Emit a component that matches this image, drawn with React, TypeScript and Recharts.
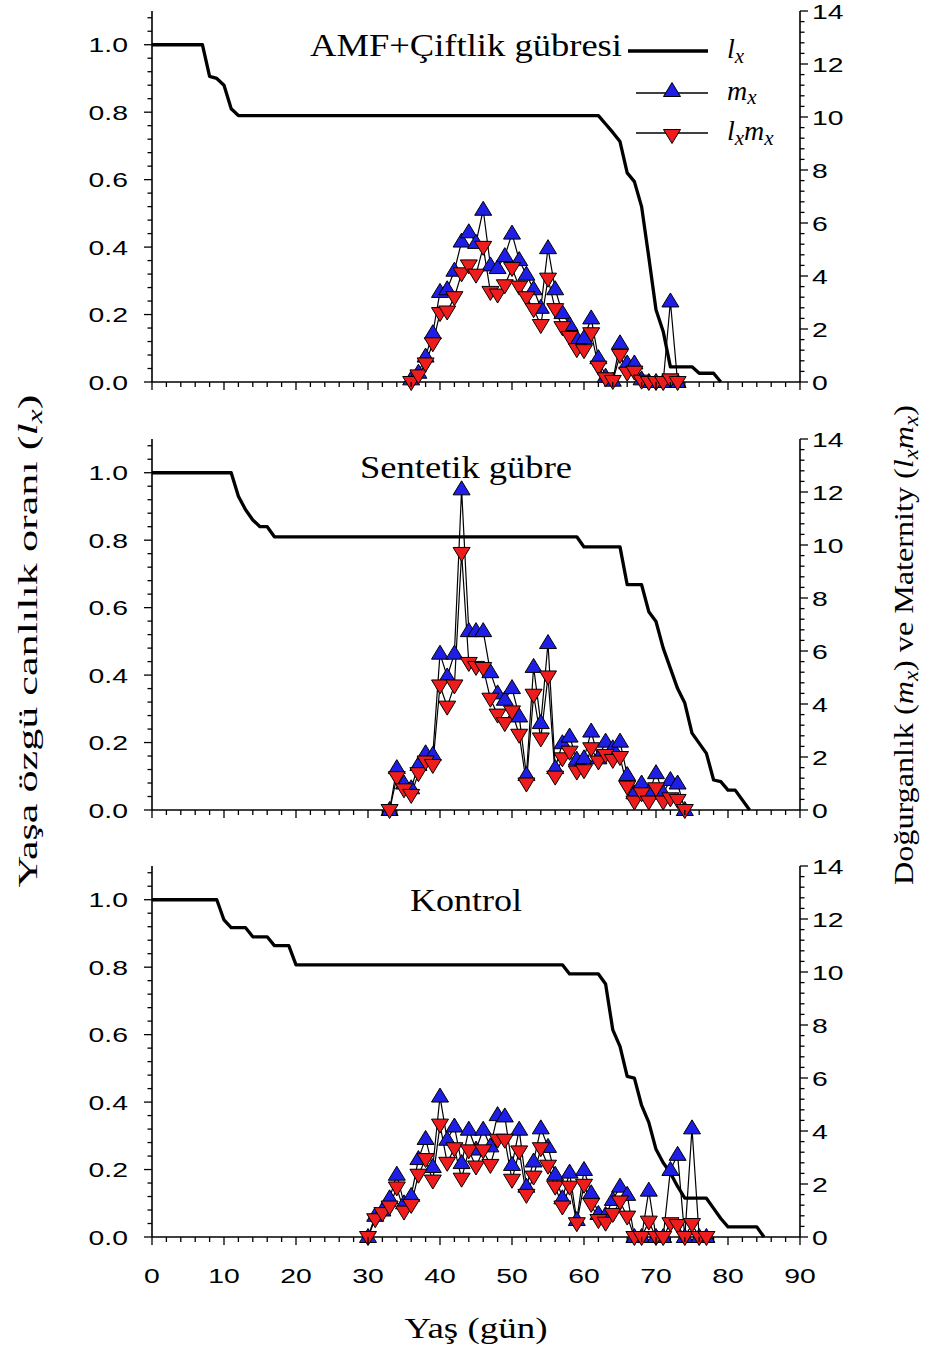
import React from "react"
import { ComposedChart, Line, XAxis, YAxis, Legend } from "recharts"

const BLUE = "#1e1ee6"
const RED = "#ee1c1c"
const SERIF = "'Liberation Serif', 'Times New Roman', serif"
const SANS = "'Liberation Sans', Arial, sans-serif"

// AMF + Çiftlik gübresi
const amfLxDays = [0, 7, 8, 9, 10, 11, 12, 62, 63, 64, 65, 66, 67, 68, 69, 70, 71, 72, 75, 76, 78, 79]
const amfLxValues = [1, 1, 0.906, 0.9, 0.88, 0.81, 0.79, 0.79, 0.765, 0.74, 0.713, 0.62, 0.594, 0.52, 0.37, 0.214, 0.15, 0.045, 0.045, 0.026, 0.026, 0]
const amfFirstDay = 36
const amfMx = [0.1, 0.35, 0.96, 1.84, 3.4, 3.5, 4.2, 5.3, 5.65, 5.25, 6.5, 4.4, 4.3, 4.75, 5.6, 4.6, 4.05, 3.5, 2.8, 5.05, 3.5, 2.6, 2.15, 1.65, 1.65, 2.4, 0.9, 0.2, 0.05, 1.46, 0.7, 0.7, 0.1, 0, 0, 0, 3.04, 0]
const amfLxMx = [0, 0.25, 0.7, 1.46, 2.6, 2.66, 3.2, 4.1, 4.4, 4.05, 5.1, 3.4, 3.3, 3.65, 4.3, 3.6, 3.2, 2.75, 2.15, 3.9, 2.75, 2.07, 1.7, 1.24, 1.2, 1.84, 0.58, 0.14, 0.04, 1.02, 0.35, 0.39, 0.05, 0, 0, 0, 0.1, 0]

// Sentetik gübre
const synLxDays = [0, 11, 12, 13, 14, 15, 16, 17, 59, 60, 65, 66, 68, 69, 70, 71, 72, 73, 74, 75, 77, 78, 79, 80, 81, 83]
const synLxValues = [1, 1, 0.93, 0.89, 0.86, 0.84, 0.84, 0.81, 0.81, 0.78, 0.78, 0.668, 0.668, 0.588, 0.559, 0.48, 0.42, 0.36, 0.317, 0.228, 0.168, 0.089, 0.084, 0.059, 0.059, 0]
const synFirstDay = 33
const synMx = [0, 1.58, 1.0, 0.82, 1.7, 2.14, 2.08, 5.9, 5.04, 5.9, 12.1, 6.75, 6.75, 6.75, 5.2, 4.4, 4.16, 4.6, 3.53, 1.32, 5.4, 3.28, 6.3, 1.58, 2.52, 2.77, 1.9, 1.95, 2.96, 1.95, 2.58, 2.33, 2.58, 1.32, 0.63, 1.0, 0.63, 1.39, 0.63, 1.13, 1.0, 0]
const synLxMx = [0, 1.24, 0.78, 0.57, 1.39, 1.83, 1.7, 4.7, 3.9, 4.7, 9.7, 5.55, 5.4, 5.36, 4.2, 3.6, 3.28, 3.72, 2.84, 1.0, 4.35, 2.7, 5.04, 1.26, 1.95, 2.2, 1.45, 1.5, 2.33, 1.83, 2.08, 1.89, 2.0, 0.88, 0.32, 0.63, 0.32, 0.82, 0.32, 0.44, 0.38, 0]

// Kontrol
const konLxDays = [0, 9, 10, 11, 13, 14, 16, 17, 19, 20, 57, 58, 62, 63, 64, 65, 66, 67, 68, 69, 70, 71, 72, 73, 74, 77, 78, 79, 80, 84, 85]
const konLxValues = [1, 1, 0.94, 0.917, 0.917, 0.89, 0.89, 0.864, 0.864, 0.807, 0.807, 0.78, 0.78, 0.75, 0.614, 0.565, 0.476, 0.471, 0.39, 0.34, 0.26, 0.22, 0.19, 0.15, 0.115, 0.115, 0.085, 0.055, 0.03, 0.03, 0]
const konFirstDay = 30
const konMx = [0, 0.8, 1.0, 1.46, 2.35, 1.27, 1.55, 2.94, 3.7, 2.64, 5.3, 3.67, 4.17, 2.79, 4.05, 3.3, 4.05, 3.42, 4.6, 4.55, 2.72, 4.05, 1.9, 2.85, 4.1, 3.4, 2.35, 1.46, 2.43, 0.64, 2.53, 1.65, 0.87, 0.83, 1.4, 1.9, 1.59, 0, 0, 1.75, 0, 0, 2.53, 3.1, 0, 4.1, 0, 0]
const konLxMx = [0, 0.67, 0.9, 1.15, 1.87, 0.96, 1.21, 2.35, 2.94, 2.13, 4.24, 2.8, 3.35, 2.2, 3.27, 2.66, 3.27, 2.72, 3.67, 3.67, 2.16, 3.23, 1.59, 2.28, 3.35, 2.69, 1.9, 1.15, 1.9, 0.52, 1.97, 1.25, 0.64, 0.54, 0.87, 1.34, 0.77, 0, 0, 0.58, 0, 0, 0.52, 0.45, 0, 0.49, 0, 0]

// eksenler
const xMajor = [0, 10, 20, 30, 40, 50, 60, 70, 80, 90]
const lxMajor = [0, 0.2, 0.4, 0.6, 0.8, 1.0]
const mxMajor = [0, 2, 4, 6, 8, 10, 12, 14]

const xTicks: number[] = []
for (let i = 0; i <= 45; i++) xTicks.push(i * 2)
const lxTicks: number[] = []
for (let i = 0; i <= 27; i++) lxTicks.push(Math.round(i * 4) / 100)
const mxTicks: number[] = []
for (let i = 0; i <= 35; i++) mxTicks.push(Math.round(i * 4) / 10)

const isMajor = (v: number, list: number[]) => list.some((m) => Math.abs(m - v) < 1e-6)

const PLOT_H = 371
const M_TOP = 11
const axisStyle = { stroke: "#000", strokeWidth: 1.6 }

function BottomTick(props: any) {
  const { x, y, payload, showLabel } = props
  const major = isMajor(payload.value, xMajor)
  return (
    <g>
      <line x1={x} x2={x} y1={y} y2={y + (major ? 8 : 5)} stroke="#000" strokeWidth={1.3} />
      {showLabel && major && (
        <text transform={`translate(${x},${y + 38}) scale(1.35,1)`} textAnchor="middle" dominantBaseline="central" fontFamily={SANS} fontSize={21} fill="#000">
          {payload.value}
        </text>
      )}
    </g>
  )
}

function LeftTick(props: any) {
  const { x, y, payload } = props
  const major = isMajor(payload.value, lxMajor)
  return (
    <g>
      <line x1={x} x2={x - (major ? 8 : 4.5)} y1={y} y2={y} stroke="#000" strokeWidth={1.3} />
      {major && (
        <text transform={`translate(${x - 24},${y}) scale(1.35,1)`} textAnchor="end" dominantBaseline="central" fontFamily={SANS} fontSize={21} fill="#000">
          {payload.value.toFixed(1)}
        </text>
      )}
    </g>
  )
}

function RightTick(props: any) {
  const { x, y, payload } = props
  const major = isMajor(payload.value, mxMajor)
  return (
    <g>
      <line x1={x} x2={x + (major ? 8 : 4.5)} y1={y} y2={y} stroke="#000" strokeWidth={1.3} />
      {major && (
        <text transform={`translate(${x + 12},${y}) scale(1.35,1)`} textAnchor="start" dominantBaseline="central" fontFamily={SANS} fontSize={21} fill="#000">
          {payload.value}
        </text>
      )}
    </g>
  )
}

const upPts = (cx: number, cy: number) => `${cx},${cy - 8.5} ${cx - 8.5},${cy + 5.5} ${cx + 8.5},${cy + 5.5}`
const downPts = (cx: number, cy: number) => `${cx},${cy + 8.5} ${cx - 8.5},${cy - 5.5} ${cx + 8.5},${cy - 5.5}`

function TriUp(props: any) {
  const { cx, cy, index } = props
  if (cx == null || cy == null) return <g key={`u${index}`} />
  return <polygon key={`u${index}`} points={upPts(cx, cy)} fill={BLUE} stroke="#000" strokeWidth={1} />
}

function TriDown(props: any) {
  const { cx, cy, index } = props
  if (cx == null || cy == null) return <g key={`d${index}`} />
  return <polygon key={`d${index}`} points={downPts(cx, cy)} fill={RED} stroke="#000" strokeWidth={1} />
}

function LegendBox() {
  return (
    <svg width={200} height={135} style={{ display: "block" }}>
      <line x1={28} x2={108} y1={31} y2={31} stroke="#000" strokeWidth={3.5} />
      <text x={127} y={38} fontFamily={SERIF} fontSize={28} fontStyle="italic" fill="#000">
        l<tspan fontSize={21} dy={5}>x</tspan>
      </text>
      <line x1={36} x2={108} y1={73} y2={73} stroke="#000" strokeWidth={1.3} />
      <polygon points={upPts(72, 71)} fill={BLUE} stroke="#000" strokeWidth={1} />
      <text x={127} y={80} fontFamily={SERIF} fontSize={28} fontStyle="italic" fill="#000">
        m<tspan fontSize={21} dy={4}>x</tspan>
      </text>
      <line x1={36} x2={108} y1={113} y2={113} stroke="#000" strokeWidth={1.3} />
      <polygon points={downPts(72, 115)} fill={RED} stroke="#000" strokeWidth={1} />
      <text x={127} y={120} fontFamily={SERIF} fontSize={28} fontStyle="italic" fill="#000">
        l<tspan fontSize={21} dy={5}>x</tspan>
        <tspan fontSize={28} dy={-5}>m</tspan>
        <tspan fontSize={21} dy={5}>x</tspan>
      </text>
    </svg>
  )
}

const panels = [
  { key: "amf", lxDays: amfLxDays, lxValues: amfLxValues, firstDay: amfFirstDay, mx: amfMx, lxmx: amfLxMx, plotTop: 11, showX: false, legend: true },
  { key: "syn", lxDays: synLxDays, lxValues: synLxValues, firstDay: synFirstDay, mx: synMx, lxmx: synLxMx, plotTop: 439, showX: false, legend: false },
  { key: "kon", lxDays: konLxDays, lxValues: konLxValues, firstDay: konFirstDay, mx: konMx, lxmx: konLxMx, plotTop: 866, showX: true, legend: false },
]

function Panel({ cfg }: { cfg: (typeof panels)[number] }) {
  const lxData = cfg.lxDays.map((d, i) => ({ day: d, v: cfg.lxValues[i] }))
  const mxData = cfg.mx.map((v, i) => ({ day: cfg.firstDay + i, v }))
  const lxmxData = cfg.lxmx.map((v, i) => ({ day: cfg.firstDay + i, v }))
  return (
    <div style={{ position: "absolute", left: 0, top: cfg.plotTop - M_TOP }}>
      <ComposedChart width={927} height={M_TOP + PLOT_H + 50} margin={{ top: M_TOP, right: 67, bottom: 0, left: 92 }}>
        <XAxis xAxisId="top" orientation="top" type="number" domain={[0, 90]} height={0} tick={false} tickLine={false} axisLine={axisStyle} />
        <XAxis
          dataKey="day"
          type="number"
          domain={[0, 90]}
          ticks={xTicks}
          interval={0}
          height={50}
          tickSize={0}
          tickMargin={0}
          tickLine={false}
          axisLine={axisStyle}
          tick={(p: any) => <BottomTick {...p} showLabel={cfg.showX} />}
        />
        <YAxis yAxisId="l" type="number" domain={[0, 1.1]} ticks={lxTicks} interval={0} width={60} tickSize={0} tickMargin={0} tickLine={false} axisLine={axisStyle} tick={LeftTick} />
        <YAxis yAxisId="r" orientation="right" type="number" domain={[0, 14]} ticks={mxTicks} interval={0} width={60} tickSize={0} tickMargin={0} tickLine={false} axisLine={axisStyle} tick={RightTick} />
        <Line yAxisId="l" data={lxData} dataKey="v" name="lx" type="linear" stroke="#000" strokeWidth={3.3} strokeLinejoin="round" dot={false} activeDot={false} isAnimationActive={false} />
        <Line yAxisId="r" data={mxData} dataKey="v" name="mx" type="linear" stroke="#000" strokeWidth={1.2} dot={TriUp} activeDot={false} isAnimationActive={false} />
        <Line yAxisId="r" data={lxmxData} dataKey="v" name="lxmx" type="linear" stroke="#000" strokeWidth={1.2} dot={TriDown} activeDot={false} isAnimationActive={false} />
        {cfg.legend && (
          <Legend layout="vertical" align="center" verticalAlign="middle" content={() => <LegendBox />} wrapperStyle={{ left: 600, top: 20, width: 200, height: 135 }} />
        )}
      </ComposedChart>
    </div>
  )
}

export default function App() {
  return (
    <div style={{ position: "absolute", left: 0, top: 0, width: 927, height: 1348, background: "#fff", overflow: "hidden" }}>
      {panels.map((p) => (
        <Panel key={p.key} cfg={p} />
      ))}
      <svg width={927} height={1348} style={{ position: "absolute", left: 0, top: 0, pointerEvents: "none" }}>
        <g fontFamily={SERIF} fill="#000">
          <text x={466} y={56} textAnchor="middle" fontSize={32} textLength={312} lengthAdjust="spacingAndGlyphs">
            AMF+Çiftlik gübresi
          </text>
          <text x={466} y={478} textAnchor="middle" fontSize={32} textLength={212} lengthAdjust="spacingAndGlyphs">
            Sentetik gübre
          </text>
          <text x={466} y={911} textAnchor="middle" fontSize={32} textLength={112} lengthAdjust="spacingAndGlyphs">
            Kontrol
          </text>
          <text x={476} y={1338} textAnchor="middle" fontSize={30} textLength={143} lengthAdjust="spacingAndGlyphs">
            Yaş (gün)
          </text>
          <text transform="translate(37,641) rotate(-90)" textAnchor="middle" fontSize={28} textLength={493} lengthAdjust="spacingAndGlyphs">
            Yaşa özgü canlılık oranı (<tspan fontStyle="italic">l</tspan>
            <tspan fontStyle="italic" fontSize={20} dy={5}>x</tspan>
            <tspan dy={-5}>)</tspan>
          </text>
          <text transform="translate(913,645) rotate(-90)" textAnchor="middle" fontSize={28} textLength={480} lengthAdjust="spacingAndGlyphs">
            Doğurganlık (<tspan fontStyle="italic">m</tspan>
            <tspan fontStyle="italic" fontSize={20} dy={5}>x</tspan>
            <tspan dy={-5}>) ve Maternity (</tspan>
            <tspan fontStyle="italic">l</tspan>
            <tspan fontStyle="italic" fontSize={20} dy={5}>x</tspan>
            <tspan fontStyle="italic" dy={-5}>m</tspan>
            <tspan fontStyle="italic" fontSize={20} dy={5}>x</tspan>
            <tspan dy={-5}>)</tspan>
          </text>
        </g>
      </svg>
    </div>
  )
}
